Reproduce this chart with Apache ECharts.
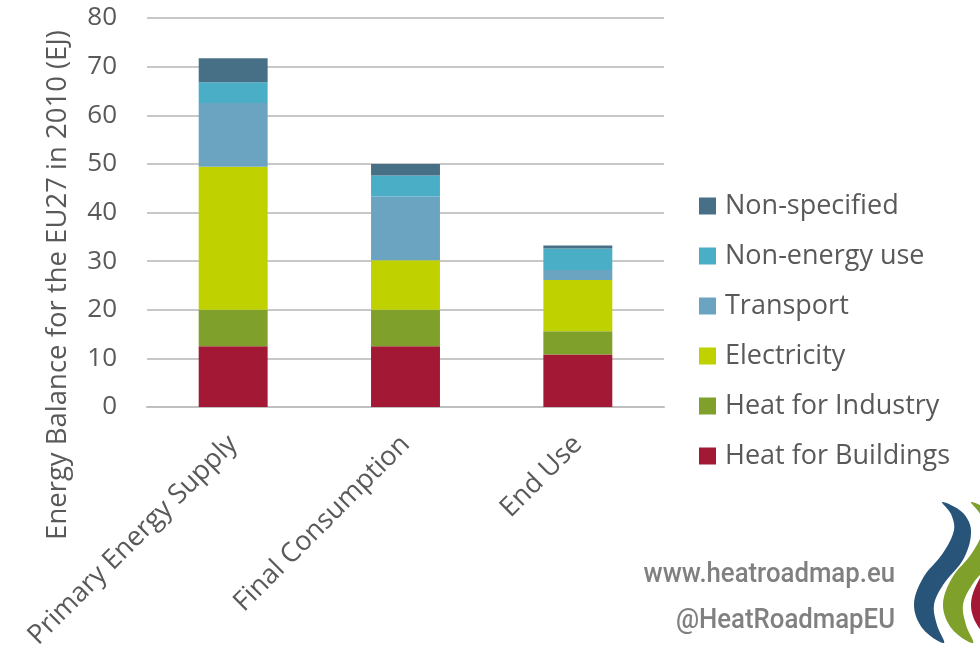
<!DOCTYPE html>
<html>
<head>
<meta charset="utf-8">
<script src="https://cdn.jsdelivr.net/npm/echarts@6/dist/echarts.min.js"></script>
<style>
html,body{margin:0;padding:0;background:#fff;}
#chart{width:980px;height:650px;}
</style>
</head>
<body>
<div id="chart"></div>
<script>
const categories = ['Primary Energy Supply', 'Final Consumption', 'End Use'];
const seriesNames = ['Heat for Buildings', 'Heat for Industry', 'Electricity', 'Transport', 'Non-energy use', 'Non-specified'];
const heatBuildings = [12.5, 12.5, 10.8];
const heatIndustry = [7.5, 7.5, 4.8];
const electricity = [29.4, 10.2, 10.5];
const transport = [13.1, 13.1, 2.1];
const nonEnergy = [4.3, 4.3, 4.4];
const nonSpecified = [4.9, 2.4, 0.6];
const yTicks = [0, 10, 20, 30, 40, 50, 60, 70, 80];

const seriesValues = [heatBuildings, heatIndustry, electricity, transport, nonEnergy, nonSpecified];
const colors = ['#A31834', '#7FA02B', '#C0D100', '#6BA4C1', '#4AAEC7', '#477086'];
const FONT = '"Open Sans", sans-serif';
const TXT = '#595959';

const chart = echarts.init(document.getElementById('chart'));

// logo swoosh outline
const swoosh = [[942,502],[962,512],[971,530],[964,558],[943,585],[934,605],[937,625],[944,643],[923,629],[914,605],[923,578],[943,553],[954,530],[951,514]];
function shifted(dx){ return swoosh.map(p => [p[0]+dx, p[1]]); }

const option = {
  backgroundColor: '#fff',
  animation: false,
  grid: { left: 147, right: 316, top: 18, bottom: 243, containLabel: false, outerBoundsMode: 'none' },
  legend: {
    orient: 'vertical',
    left: 699,
    top: 191,
    padding: 0,
    itemWidth: 17,
    itemHeight: 17,
    itemGap: 20,
    icon: 'rect',
    data: seriesNames.slice().reverse(),
    textStyle: { fontFamily: FONT, fontSize: 27, color: TXT, lineHeight: 30, padding: [0,0,0,4] }
  },
  xAxis: {
    type: 'category',
    data: categories,
    axisLine: { show: true, lineStyle: { color: '#bfbfbf', width: 2 } },
    axisTick: { show: false },
    axisLabel: { rotate: 45, fontFamily: FONT, fontSize: 27, color: TXT, margin: 33, interval: 0 }
  },
  yAxis: {
    type: 'value',
    min: 0, max: 80, interval: 10,
    axisLine: { show: false },
    axisTick: { show: false },
    axisLabel: { fontFamily: FONT, fontSize: 26, color: TXT, margin: 30,
      formatter: v => yTicks.includes(v) ? String(v) : '' },
    splitLine: { lineStyle: { color: '#c8c8c8', width: 2 } }
  },
  series: seriesNames.map((n, i) => ({
    name: n,
    type: 'bar',
    stack: 'total',
    barWidth: '40%',
    data: seriesValues[i],
    itemStyle: { color: colors[i] }
  })),
  graphic: [
    {
      type: 'text',
      x: 58, y: 285,
      rotation: Math.PI / 2,
      style: { text: 'Energy Balance for the EU27 in 2010 (EJ)', fontFamily: FONT, fontSize: 27.5, fill: TXT, align: 'center', verticalAlign: 'middle' }
    },
    {
      type: 'text',
      x: 895, y: 561, scaleX: 0.92,
      style: { text: 'www.heatroadmap.eu', fontFamily: 'Roboto, sans-serif', fontWeight: 500, fontSize: 28, fill: '#808080', align: 'right', verticalAlign: 'alphabetic' }
    },
    {
      type: 'text',
      x: 895, y: 607, scaleX: 0.92,
      style: { text: '@HeatRoadmapEU', fontFamily: 'Roboto, sans-serif', fontWeight: 500, fontSize: 28, fill: '#808080', align: 'right', verticalAlign: 'alphabetic' }
    },
    { type: 'polygon', shape: { points: swoosh, smooth: 0.35 }, style: { fill: '#275478' } },
    { type: 'polygon', shape: { points: shifted(29), smooth: 0.35 }, style: { fill: '#7FA02B' } },
    { type: 'polygon', shape: { points: shifted(57), smooth: 0.35 }, style: { fill: '#A31834' } }
  ]
};
chart.setOption(option);
</script>
</body>
</html>
